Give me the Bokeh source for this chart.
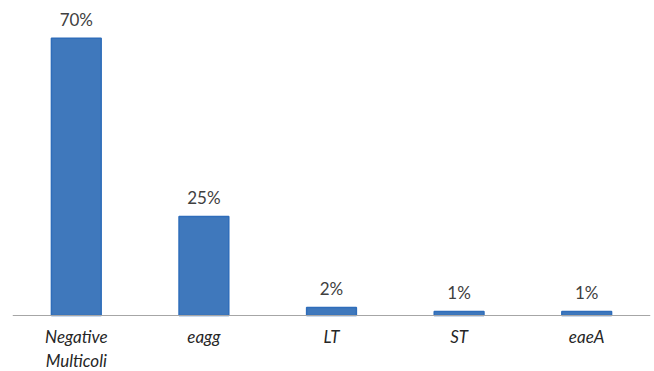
from bokeh.plotting import figure
from bokeh.models import ColumnDataSource, Range1d, Span
from bokeh.core.properties import value
from bokeh.embed import file_html
from bokeh.resources import INLINE

# Share of samples per detected gene target
categories = ["Negative\nMulticoli", "eagg", "LT", "ST", "eaeA"]
percentages = [70, 25, 2, 1, 1]
labels = [f"{v}%" for v in percentages]

source = ColumnDataSource(data=dict(
    cat=categories, pct=percentages, label=labels, base=[0] * len(categories)))

# the lower part of the range leaves room for the category names
p = figure(
    x_range=categories,
    y_range=Range1d(-14.13, 79.5),
    width=654,
    height=371,
    output_backend="svg",
    toolbar_location=None,
    min_border_left=12,
    min_border_right=4,
    min_border_top=0,
    min_border_bottom=0,
)

p.vbar(x="cat", top="pct", width=0.39, source=source,
       fill_color="#3f78bc", line_color="#2f6dba", line_width=1.5)

# baseline of the bars
p.add_layout(Span(location=0, dimension="width",
                  line_color="#a6a6a6", line_width=1))

# value labels above each bar
p.text(x="cat", y="pct", text="label", source=source,
       text_align="center", text_baseline="alphabetic",
       y_offset=-19, text_color="#404040",
       text_font=value("Lato"), text_font_size="17px")

# category names below the baseline
p.text(x="cat", y="base", text="cat", source=source,
       text_align="center", text_baseline="top",
       y_offset=10, text_color="#262626",
       text_font=value("Lato"), text_font_style="italic",
       text_font_size="17px", text_line_height=1.15)

p.xaxis.visible = False
p.yaxis.visible = False
p.xgrid.grid_line_color = None
p.ygrid.grid_line_color = None
p.outline_line_color = None

open("out.html", "w").write(file_html(p, INLINE))
